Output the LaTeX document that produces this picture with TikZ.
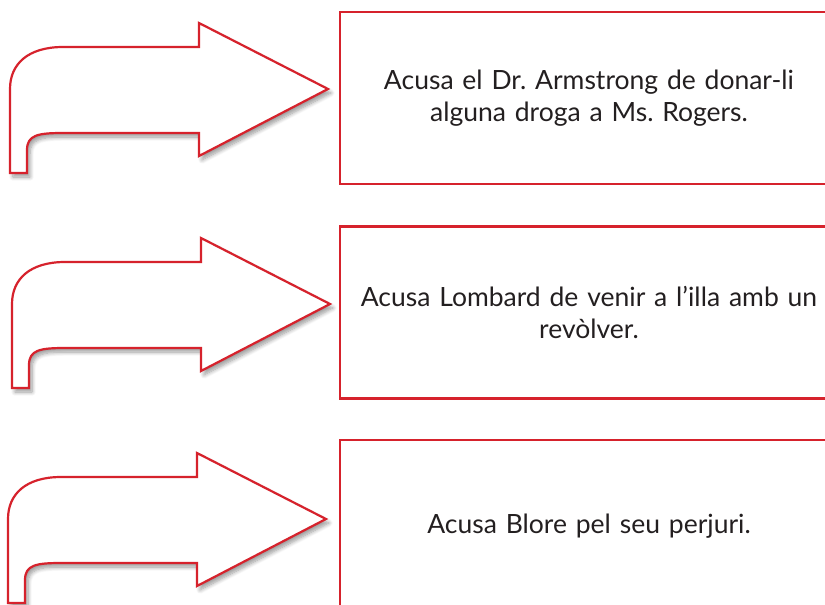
\documentclass[tikz,border=0pt]{standalone}
\usepackage{fontspec}
\setmainfont{Lato}
\frenchspacing
\usetikzlibrary{shadows.blur}
\definecolor{vermell}{RGB}{214,34,44}
\definecolor{tinta}{RGB}{35,31,32}
\tikzset{
  fletxa/.style={draw=vermell, line width=2.2pt, fill=white, line join=miter,
    blur shadow={shadow xshift=3pt, shadow yshift=-4pt, shadow blur radius=4pt,
      shadow opacity=40, shadow blur steps=8}},
  caixa/.style={draw=vermell, line width=2.3pt, rectangle, minimum width=498pt,
    minimum height=172pt, inner sep=0pt, text width=490pt, align=center,
    text=tinta, font=\fontsize{26.5}{31.5}\selectfont},
}
% fletxa doblegada, amb la punta a #1
\newcommand{\fletxa}[1]{%
  \draw[fletxa, shift={(#1)}] (0,0) -- (-129,-66) -- (-129,-42) -- (-265,-42)
    .. controls (-300,-42) and (-318,-25) .. (-318,0) -- (-318,84) -- (-301,84)
    -- (-301,61) .. controls (-301,46) and (-290,44) .. (-265,44)
    -- (-129,44) -- (-129,67) -- cycle;}
\begin{document}
\begin{tikzpicture}[x=1pt, y=-1pt]
  \useasboundingbox (0,0) rectangle (825,605);
  \clip (0,0) rectangle (825,605);
  % punts de les fletxes
  \coordinate (P1) at (328,89);
  \coordinate (P2) at (330,304);
  \coordinate (P3) at (326,519);
  \fletxa{P1}
  \fletxa{P2}
  \fletxa{P3}
  % acusacions
  \node[caixa] (acc1) at (589,98) {Acusa el Dr. Armstrong de donar-li\\alguna droga a Ms. Rogers.};
  \node[caixa] (acc2) at (589,312.5) {Acusa Lombard de venir a l’illa amb un\\revòlver.};
  \node[caixa] (acc3) at (589,526) {Acusa Blore pel seu perjuri.};
\end{tikzpicture}
\end{document}
